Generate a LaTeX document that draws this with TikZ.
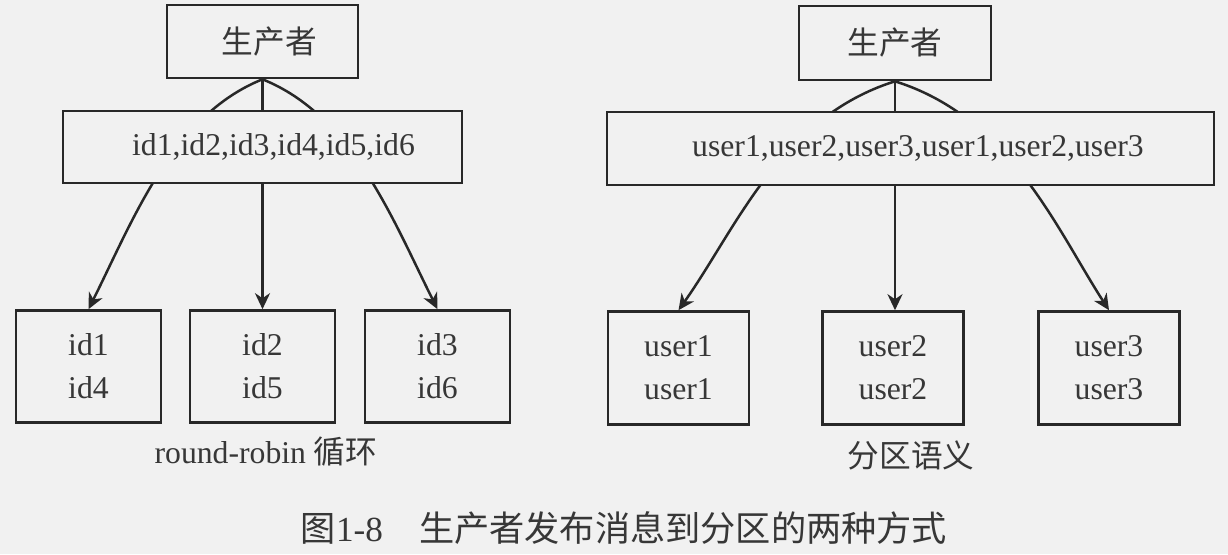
\documentclass[tikz,border=0pt]{standalone}
\usepackage{fontspec}
\setmainfont{Liberation Serif}
\newfontfamily\cjk{Noto Sans CJK SC}
\usetikzlibrary{arrows.meta}
\definecolor{paper}{RGB}{241,241,241}
\definecolor{ink}{RGB}{40,40,40}
\definecolor{txt}{RGB}{55,55,55}
\pgfdeclarelayer{back}
\pgfdeclarelayer{mid}
\pgfsetlayers{back,mid,main}
\tikzset{
  box/.style={draw=ink, line width=1.3pt, fill=paper, inner sep=0pt, text=txt,
    font=\fontsize{15.85pt}{21.5pt}\selectfont, align=center},
  lbl/.style={inner sep=0pt, text=txt, font=\fontsize{15.85pt}{19pt}\selectfont},
  captxt/.style={inner sep=0pt, text=txt, font=\fontsize{17.6pt}{21pt}\selectfont},
  arr/.style={draw=ink, line width=1.25pt, -{Stealth[length=8pt,width=7.5pt,inset=2.5pt]}}
}
\begin{document}
\begin{tikzpicture}[x=0.5pt,y=-0.5pt]
\begin{pgfonlayer}{back}
\fill[paper] (0,0) rectangle (1228,554);
\end{pgfonlayer}
\useasboundingbox (0,0) rectangle (1228,554);

% left group
\node[box, minimum width=95.5pt, minimum height=36.5pt] (prodL) at (262.5,41.5) {\hspace*{7pt}{\cjk 生产者}};
\node[box, minimum width=199.5pt, minimum height=36pt] (idbox) at (262.5,147) {\hspace*{11pt}id1,id2,id3,id4,id5,id6};
\node[box, minimum width=72.5pt, minimum height=56pt] (p1) at (88.5,366.5) {id1\\id4};
\node[box, minimum width=72.5pt, minimum height=56pt] (p2) at (262.5,366.5) {id2\\id5};
\node[box, minimum width=72.5pt, minimum height=56pt] (p3) at (437.5,366.5) {id3\\id6};
\node[lbl] (rr) at (266,452) {round-robin {\cjk 循环}};

% right group
\node[box, minimum width=96pt, minimum height=37pt] (prodR) at (895,43) {{\cjk 生产者}};
\node[box, minimum width=303.5pt, minimum height=36.5pt] (userbox) at (910.5,148.5) {\hspace*{7.5pt}user1,user2,user3,user1,user2,user3};
\node[box, minimum width=70.5pt, minimum height=56.5pt] (q1) at (678.5,368) {user1\\user1};
\node[box, minimum width=70.5pt, minimum height=56.5pt] (q2) at (893,368) {user2\\user2};
\node[box, minimum width=70.5pt, minimum height=56.5pt] (q3) at (1109,368) {user3\\user3};
\node[lbl] (sem) at (911,455) {{\cjk 分区语义}};

% caption
\node[captxt] (caption) at (624,528) {{\cjk 图}1-8\hspace{18pt}{\cjk 生产者发布消息到分区的两种方式}};

\begin{pgfonlayer}{mid}
\draw[arr] (prodL.south) .. controls +(-90,36) and +(45,-90) .. (p1.north);
\draw[arr] (prodL.south) -- (p2.north -| prodL.south);
\draw[arr] (prodL.south) .. controls +(90,36) and +(-45,-90) .. (p3.north);
\draw[arr] (prodR.south) .. controls +(-115,36) and +(58,-82) .. (q1.north);
\draw[arr] (prodR.south) -- (q2.north -| prodR.south);
\draw[arr] (prodR.south) .. controls +(115,36) and +(-53,-82) .. (q3.north);
\end{pgfonlayer}
\end{tikzpicture}
\end{document}
